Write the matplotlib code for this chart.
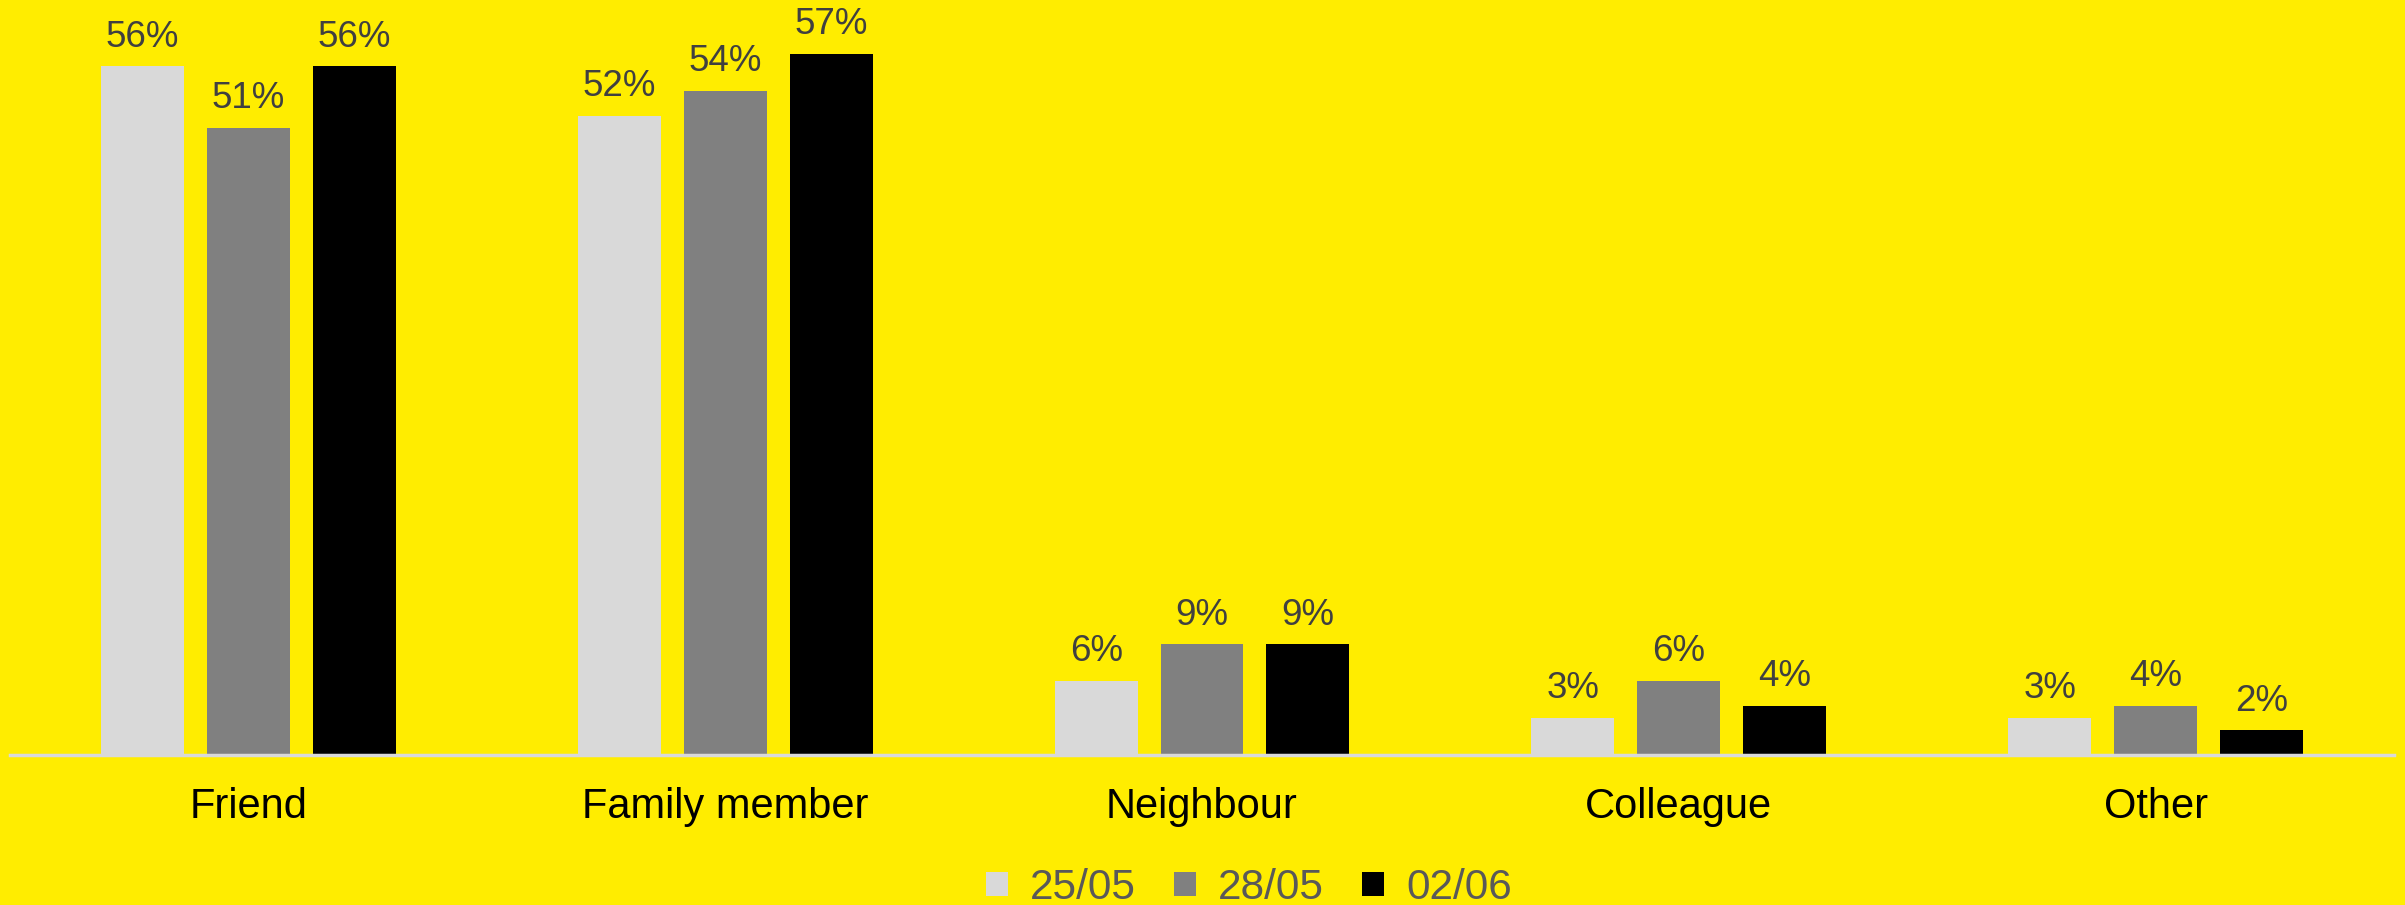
import numpy as np
import matplotlib.pyplot as plt
from matplotlib.patches import Patch

plt.rcParams['font.family'] = ['Liberation Sans', 'DejaVu Sans']

# Data
categories = ['Friend', 'Family member', 'Neighbour', 'Colleague', 'Other']
dates = ['25/05', '28/05', '02/06']
values_2505 = [56, 52, 6, 3, 3]
values_2805 = [51, 54, 9, 6, 4]
values_0206 = [56, 57, 9, 4, 2]
colors = ['#d9d9d9', '#808080', '#000000']

bg = '#ffed00'
fig = plt.figure(figsize=(24.05, 9.05), dpi=100, facecolor=bg)
ax = fig.add_axes([10 / 2405, 150 / 905, 2384 / 2405, 755 / 905])
ax.set_facecolor(bg)

x = np.arange(len(categories))
width = 0.174
step = 0.222
series = [values_2505, values_2805, values_0206]
for i, (vals, col) in enumerate(zip(series, colors)):
    pos = x + (i - 1) * step
    ax.bar(pos, vals, width=width, color=col, zorder=2)
    for px, v in zip(pos, vals):
        ax.annotate(f'{v}%', (px, v), xytext=(0, 8.5), textcoords='offset points',
                    ha='center', va='bottom', fontsize=26.5, color='#404040')

ax.set_xlim(-0.5, len(categories) - 0.5)
ax.set_ylim(0, 61.4)
ax.set_yticks([])
ax.set_xticks(x)
ax.set_xticklabels(categories, fontsize=30, color='black')
ax.tick_params(axis='x', length=0, pad=23)
for side in ['top', 'right', 'left']:
    ax.spines[side].set_visible(False)
ax.spines['bottom'].set_color('#d9d9d9')
ax.spines['bottom'].set_linewidth(2.5)

handles = [Patch(facecolor=c, edgecolor='none') for c in colors]
leg = fig.legend(handles, dates, loc='center', bbox_to_anchor=(1249 / 2405, 17 / 905), ncol=3,
                 frameon=False, fontsize=30.5, handlelength=0.52, handleheight=0.52,
                 handletextpad=0.52, columnspacing=0.9, labelcolor='#595959',
                 borderpad=0, borderaxespad=0)

fig.savefig('out.png', dpi=100, facecolor=bg)
